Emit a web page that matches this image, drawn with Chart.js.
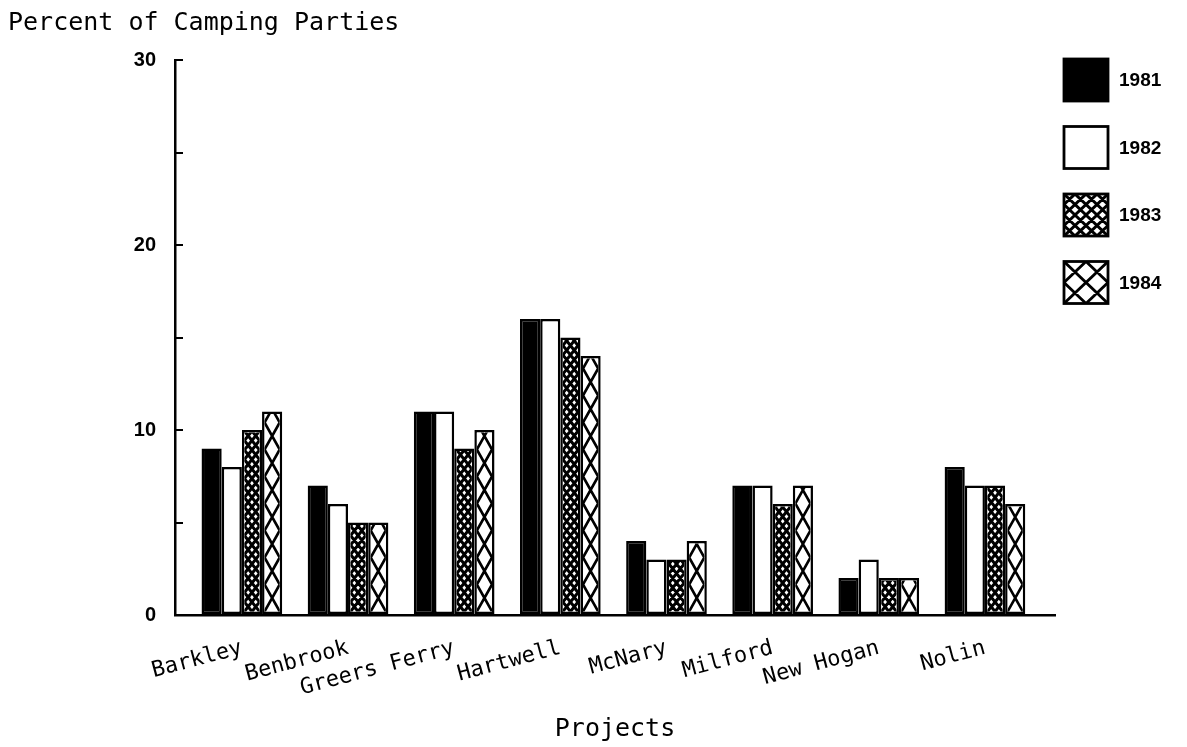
<!DOCTYPE html>
<html>
<head>
<meta charset="utf-8">
<script src="https://cdn.jsdelivr.net/npm/chart.js@4.4.0/dist/chart.umd.min.js"></script>
<style>
  html, body { margin: 0; padding: 0; background: #fff; }
  #wrap { width: 1187px; height: 747px; }
</style>
</head>
<body>
<div id="wrap"><canvas id="chart" width="1187" height="747"></canvas></div>
<script>
// data
const categories = ['Barkley', 'Benbrook', 'Greers Ferry', 'Hartwell', 'McNary', 'Milford', 'New Hogan', 'Nolin'];
const years = ['1981', '1982', '1983', '1984'];
const pct1981 = [9, 7, 11, 16, 4, 7, 2, 8];
const pct1982 = [8, 6, 11, 16, 3, 7, 3, 7];
const pct1983 = [10, 5, 9, 15, 3, 6, 2, 7];
const pct1984 = [11, 5, 10, 14, 4, 7, 2, 6];
const yTickLabels = [0, 10, 20, 30];

// styles
const seriesFill = ['#000', '#fff', '#fff', '#fff'];
const seriesHatch = [null, null, 'fine', 'coarse'];
const plotterFont = "'DejaVu Sans Mono', monospace";
const boldFont = "'Liberation Sans', Arial, sans-serif";

const allSeries = [pct1981, pct1982, pct1983, pct1984];

// diagonal cross hatch anchored at bottom-left of the rect
function hatch(ctx, left, top, w, h, pw, ph, lw) {
    if (w <= 0 || h <= 0) return;
    ctx.save();
    ctx.beginPath();
    ctx.rect(left, top, w, h);
    ctx.clip();
    ctx.strokeStyle = '#000';
    ctx.lineWidth = lw;
    const bottom = top + h;
    const U = w / pw;
    const kMin = -Math.ceil(U) - 2;
    const kMax = Math.ceil(h / ph) + Math.ceil(U) + 2;
    ctx.beginPath();
    for (let k = kMin; k <= kMax; k++) {
        ctx.moveTo(left, bottom - k * ph);
        ctx.lineTo(left + w, bottom - (k - U) * ph);
        ctx.moveTo(left, bottom - k * ph);
        ctx.lineTo(left + w, bottom - (k + U) * ph);
    }
    ctx.stroke();
    ctx.restore();
}

const hatchPlugin = {
    id: 'hatchBars',
    afterDatasetDraw(chart, args) {
        const kind = seriesHatch[args.index];
        if (!kind) return;
        const ctx = chart.ctx;
        const bw = 2.5;
        args.meta.data.forEach(el => {
            const p = el.getProps(['x', 'y', 'base', 'width'], true);
            const left = p.x - p.width / 2 + bw;
            const top = Math.min(p.y, p.base) + bw;
            const w = p.width - 2 * bw;
            const h = Math.abs(p.base - p.y) - 2 * bw;
            if (kind === 'fine') {
                hatch(ctx, left, top, w, h, w / 2, 9.5, 3);
            } else {
                hatch(ctx, left, top, w, h, w, 27, 2.6);
            }
        });
    }
};

const legendPlugin = {
    id: 'sideLegend',
    afterDraw(chart) {
        const ctx = chart.ctx;
        const bx = 1064, bw = 44, bh = 42;
        ctx.save();
        years.forEach((yr, i) => {
            const cy = 80 + i * 67.5;
            const by = cy - bh / 2;
            ctx.fillStyle = seriesFill[i];
            ctx.fillRect(bx, by, bw, bh);
            if (seriesHatch[i] === 'fine') hatch(ctx, bx, by, bw, bh, bw / 4, bh / 4, 3);
            if (seriesHatch[i] === 'coarse') hatch(ctx, bx, by, bw, bh, bw / 2, bh / 2, 2.8);
            ctx.strokeStyle = '#000';
            ctx.lineWidth = 2.8;
            ctx.strokeRect(bx, by, bw, bh);
            ctx.fillStyle = '#000';
            ctx.font = 'bold 19px ' + boldFont;
            ctx.textAlign = 'left';
            ctx.textBaseline = 'middle';
            ctx.fillText(yr, bx + bw + 11, cy + 1);
        });
        ctx.restore();
    }
};

const datasets = years.map((yr, i) => ({
    label: yr,
    data: allSeries[i].map((v, j) => ({ x: j, y: v })),
    backgroundColor: seriesFill[i],
    borderColor: '#000',
    borderWidth: 2.5,
    borderSkipped: false,
    barPercentage: 1.0,
    categoryPercentage: 0.76
}));

new Chart(document.getElementById('chart').getContext('2d'), {
    type: 'bar',
    data: { datasets: datasets },
    plugins: [hatchPlugin, legendPlugin],
    options: {
        responsive: false,
        animation: false,
        devicePixelRatio: 1,
        layout: { padding: { left: 8, right: 132, top: 0, bottom: 0 } },
        plugins: {
            legend: { display: false },
            tooltip: { enabled: false },
            title: {
                display: true,
                text: 'Percent of Camping Parties',
                align: 'start',
                color: '#000',
                font: { family: plotterFont, size: 25, weight: 'normal' },
                padding: { top: 8, bottom: 22 }
            }
        },
        scales: {
            x: {
                type: 'linear',
                min: -0.63,
                max: 7.66,
                offset: false,
                afterBuildTicks(scale) {
                    scale.ticks = categories.map((c, i) => ({ value: i }));
                },
                afterFit(scale) { scale.height = 132; },
                grid: { drawOnChartArea: false, drawTicks: false },
                border: { display: true, color: '#000', width: 2.5 },
                ticks: {
                    autoSkip: false,
                    minRotation: 15,
                    maxRotation: 15,
                    padding: 20,
                    color: '#000',
                    font: { family: plotterFont, size: 22 },
                    callback: (v) => categories[v]
                },
                title: {
                    display: true,
                    text: 'Projects',
                    color: '#000',
                    font: { family: plotterFont, size: 25 },
                    padding: { top: 0, bottom: 3 }
                }
            },
            y: {
                min: 0,
                max: 30,
                afterFit(scale) { scale.width = 167; },
                grid: { drawOnChartArea: false, drawTicks: true, tickLength: -8, color: '#000', lineWidth: 2 },
                border: { display: true, color: '#000', width: 2.5 },
                ticks: {
                    stepSize: 5,
                    padding: 27,
                    color: '#000',
                    font: { family: boldFont, size: 20, weight: 'bold' },
                    callback: (v) => yTickLabels.includes(v) ? String(v) : ''
                }
            }
        }
    }
});
</script>
</body>
</html>
